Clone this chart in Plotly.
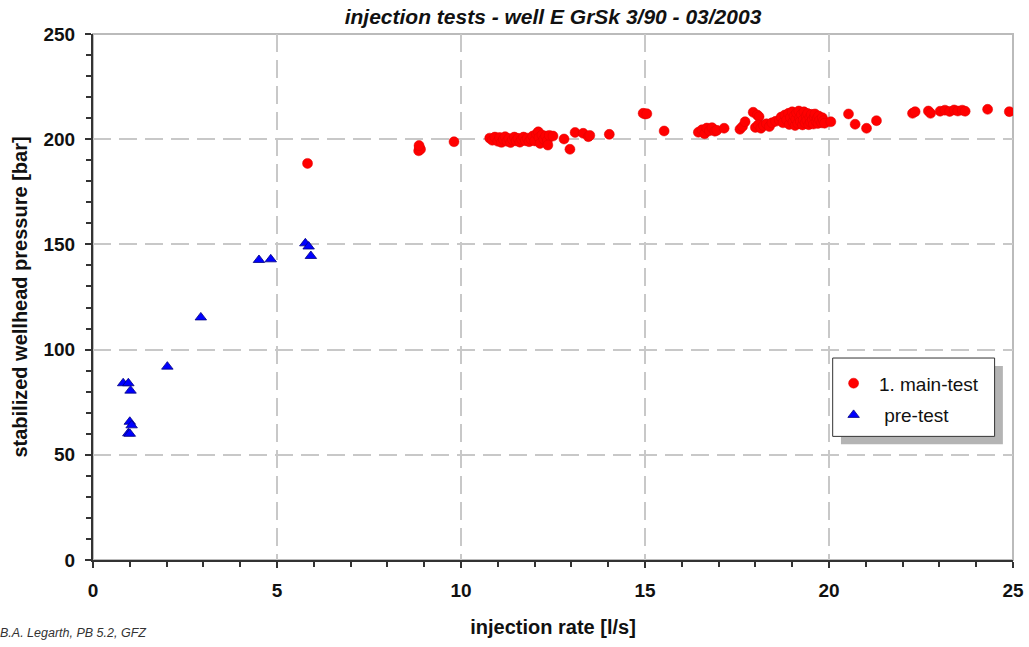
import plotly.graph_objects as go

# main test (red circles)
main_rate = [
    5.83, 8.85, 8.87, 8.90, 8.86, 9.81,
    10.78, 10.85, 10.92, 11.00, 11.05, 11.10, 11.15, 11.20, 11.25, 11.30,
    11.35, 11.40, 11.45, 11.50, 11.55, 11.60, 11.65, 11.70, 11.75, 11.80,
    11.85, 11.90, 11.95, 12.00, 12.05, 12.10, 12.12, 12.15, 12.20, 12.25,
    12.30, 12.35, 12.40, 12.50, 12.36,
    12.80, 12.96, 13.10, 13.32, 13.46, 13.50, 14.03,
    15.00, 14.95, 15.05, 15.52,
    16.45, 16.55, 16.62, 16.68, 16.75, 16.82, 16.90, 16.95,
    17.15, 17.58, 17.65, 17.72, 17.94, 18.05, 18.10,
    18.00, 18.08, 18.15, 18.22, 18.30, 18.38, 18.45, 18.55,
    18.65, 18.70, 18.75, 18.80, 18.85, 18.90, 18.92, 18.95, 19.00, 19.02,
    19.05, 19.08, 19.10, 19.12, 19.15, 19.18, 19.20, 19.22, 19.25, 19.28,
    19.30, 19.32, 19.35, 19.38, 19.40, 19.42, 19.45, 19.48, 19.50, 19.52,
    19.55, 19.58, 19.60, 19.62, 19.65, 19.68, 19.70, 19.72, 19.75, 19.80,
    19.82, 19.85, 19.88,
    20.05, 20.53, 20.71, 21.02, 21.29,
    22.27, 22.34, 22.70, 22.76, 23.02, 23.15, 23.28, 23.40, 23.50, 23.62, 23.70,
    24.31, 24.90,
]
main_pressure = [
    188.5, 194.5, 196.0, 195.2, 197.0, 198.8,
    200.5, 199.5, 201.0, 199.0, 200.8, 198.5, 200.0, 201.2, 199.0, 200.3,
    198.4, 199.8, 201.0, 199.2, 200.4, 198.6, 199.9, 201.0, 199.3, 200.5,
    198.8, 200.0, 201.5, 199.2, 202.5, 203.5, 200.8, 198.0, 202.0, 200.0,
    201.5, 199.5, 201.8, 201.5, 197.2,
    200.1, 195.2, 203.2, 202.8, 201.2, 201.8, 202.3,
    212.0, 212.3, 212.1, 203.9,
    203.3, 204.5, 202.6, 205.3, 204.0, 205.5, 203.8, 204.2,
    205.2, 204.7, 206.0, 208.3, 212.8, 211.5, 210.7,
    205.6, 206.8, 205.2, 206.5, 207.3, 206.0, 207.8, 208.5,
    209.0, 210.5, 207.8, 211.5, 209.2, 212.3, 207.0, 210.3, 213.0, 208.2,
    211.0, 206.5, 209.5, 212.5, 207.5, 213.4, 210.0, 208.5, 211.8, 206.8,
    209.3, 213.0, 207.8, 211.0, 208.9, 212.2, 206.9, 210.3, 208.0, 211.8,
    209.2, 207.2, 210.6, 212.0, 208.4, 210.0, 207.5, 211.0, 209.0, 207.8,
    210.2, 208.8, 207.6,
    208.3, 212.0, 207.1, 205.2, 208.8,
    212.3, 213.1, 213.4, 212.3, 213.3, 213.8, 213.2, 213.9, 213.4, 213.8, 213.3,
    214.2, 213.1,
]

# pre-test (blue triangles)
pre_rate = [0.82, 0.96, 1.02, 1.00, 1.05, 0.96, 1.00, 2.02, 2.93, 4.51, 4.83, 5.77, 5.86, 5.92]
pre_pressure = [84.0, 84.0, 80.5, 65.7, 64.0, 60.2, 60.0, 91.9, 115.3, 142.6, 142.9, 150.5, 149.0, 144.5]

font_main = "Liberation Sans, Arial, sans-serif"

fig = go.Figure()

fig.add_trace(go.Scatter(
    x=main_rate, y=main_pressure, mode="markers", name="\u00a01. main-test",
    legendgroup="a",
    marker=dict(symbol="circle", size=10, color="#FF0000",
                line=dict(color="#E00000", width=0.5)),
))
fig.add_trace(go.Scatter(
    x=pre_rate, y=pre_pressure, mode="markers", name="\u00a0\u00a0pre-test",
    legendgroup="b",
    marker=dict(symbol="triangle-up", size=10, color="#0000FF",
                line=dict(color="#000080", width=0.8)),
))

grid = dict(showgrid=True, gridcolor="#C8C8C8", gridwidth=2, griddash="18px,8px",
            showline=True, linecolor="#333333", linewidth=2,
            ticks="outside", ticklen=6, tickwidth=1.5, tickcolor="#333333",
            tickfont=dict(family=font_main, size=19, color="#111111"),
            zeroline=False, ticklabelstandoff=6, automargin=False)

fig.update_xaxes(range=[0, 25], dtick=5, tick0=0,
                 minor=dict(dtick=1, ticks="outside", ticklen=5, tickcolor="#333333", showgrid=False),
                 title=dict(text="<b>injection rate [l/s]</b>", standoff=20,
                            font=dict(family=font_main, size=20, color="#111111")),
                 tickprefix="<b>", ticksuffix="</b>", **grid)
fig.update_yaxes(range=[0, 250], dtick=50, tick0=0,
                 minor=dict(dtick=10, ticks="outside", ticklen=5, tickcolor="#333333", showgrid=False),
                 title=dict(text="<b>stabilized wellhead pressure [bar]</b>", standoff=10,
                            font=dict(family=font_main, size=20, color="#111111")),
                 tickprefix="<b>", ticksuffix="</b>", **grid)

# grey frame at top/right, legend box with shadow
fig.add_shape(type="rect", xref="paper", yref="paper", x0=0, x1=1, y0=0, y1=1,
              line=dict(color="#BBBBBB", width=2), layer="below")
fig.add_shape(type="rect", xref="paper", yref="paper", x0=0.813, x1=0.989, y0=0.22, y1=0.369,
              line=dict(width=0), fillcolor="#B4B4B4", layer="above")
fig.add_shape(type="rect", xref="paper", yref="paper", x0=0.804, x1=0.980, y0=0.235, y1=0.384,
              line=dict(color="#333333", width=1), fillcolor="white", layer="above")

fig.add_annotation(text="<i>B.A. Legarth, PB 5.2, GFZ</i>", xref="paper", yref="paper",
                   x=-95 / 920, y=-73 / 526, xanchor="left", yanchor="middle", showarrow=False,
                   font=dict(family=font_main, size=12.5, color="#333333"))

fig.update_layout(
    width=1029, height=647,
    margin=dict(l=93, r=16, t=34, b=87),
    paper_bgcolor="white", plot_bgcolor="white",
    title=dict(text="<b><i>injection tests - well E GrSk 3/90 - 03/2003</i></b>",
               x=0.5, xref="paper", y=1 - 17 / 647, yref="container", yanchor="middle",
               font=dict(family=font_main, size=21, color="#111111")),
    legend=dict(x=0.805, y=0.372, xanchor="left", yanchor="top",
                bgcolor="rgba(0,0,0,0)", borderwidth=0, tracegroupgap=4,
                font=dict(family=font_main, size=19, color="#111111")),
    showlegend=True,
)

# page body has an 8px default margin; drop it so the figure sits at 0,0
fig.write_html("out.html", config={"displayModeBar": False},
               post_script="document.body.style.margin='0px';")
